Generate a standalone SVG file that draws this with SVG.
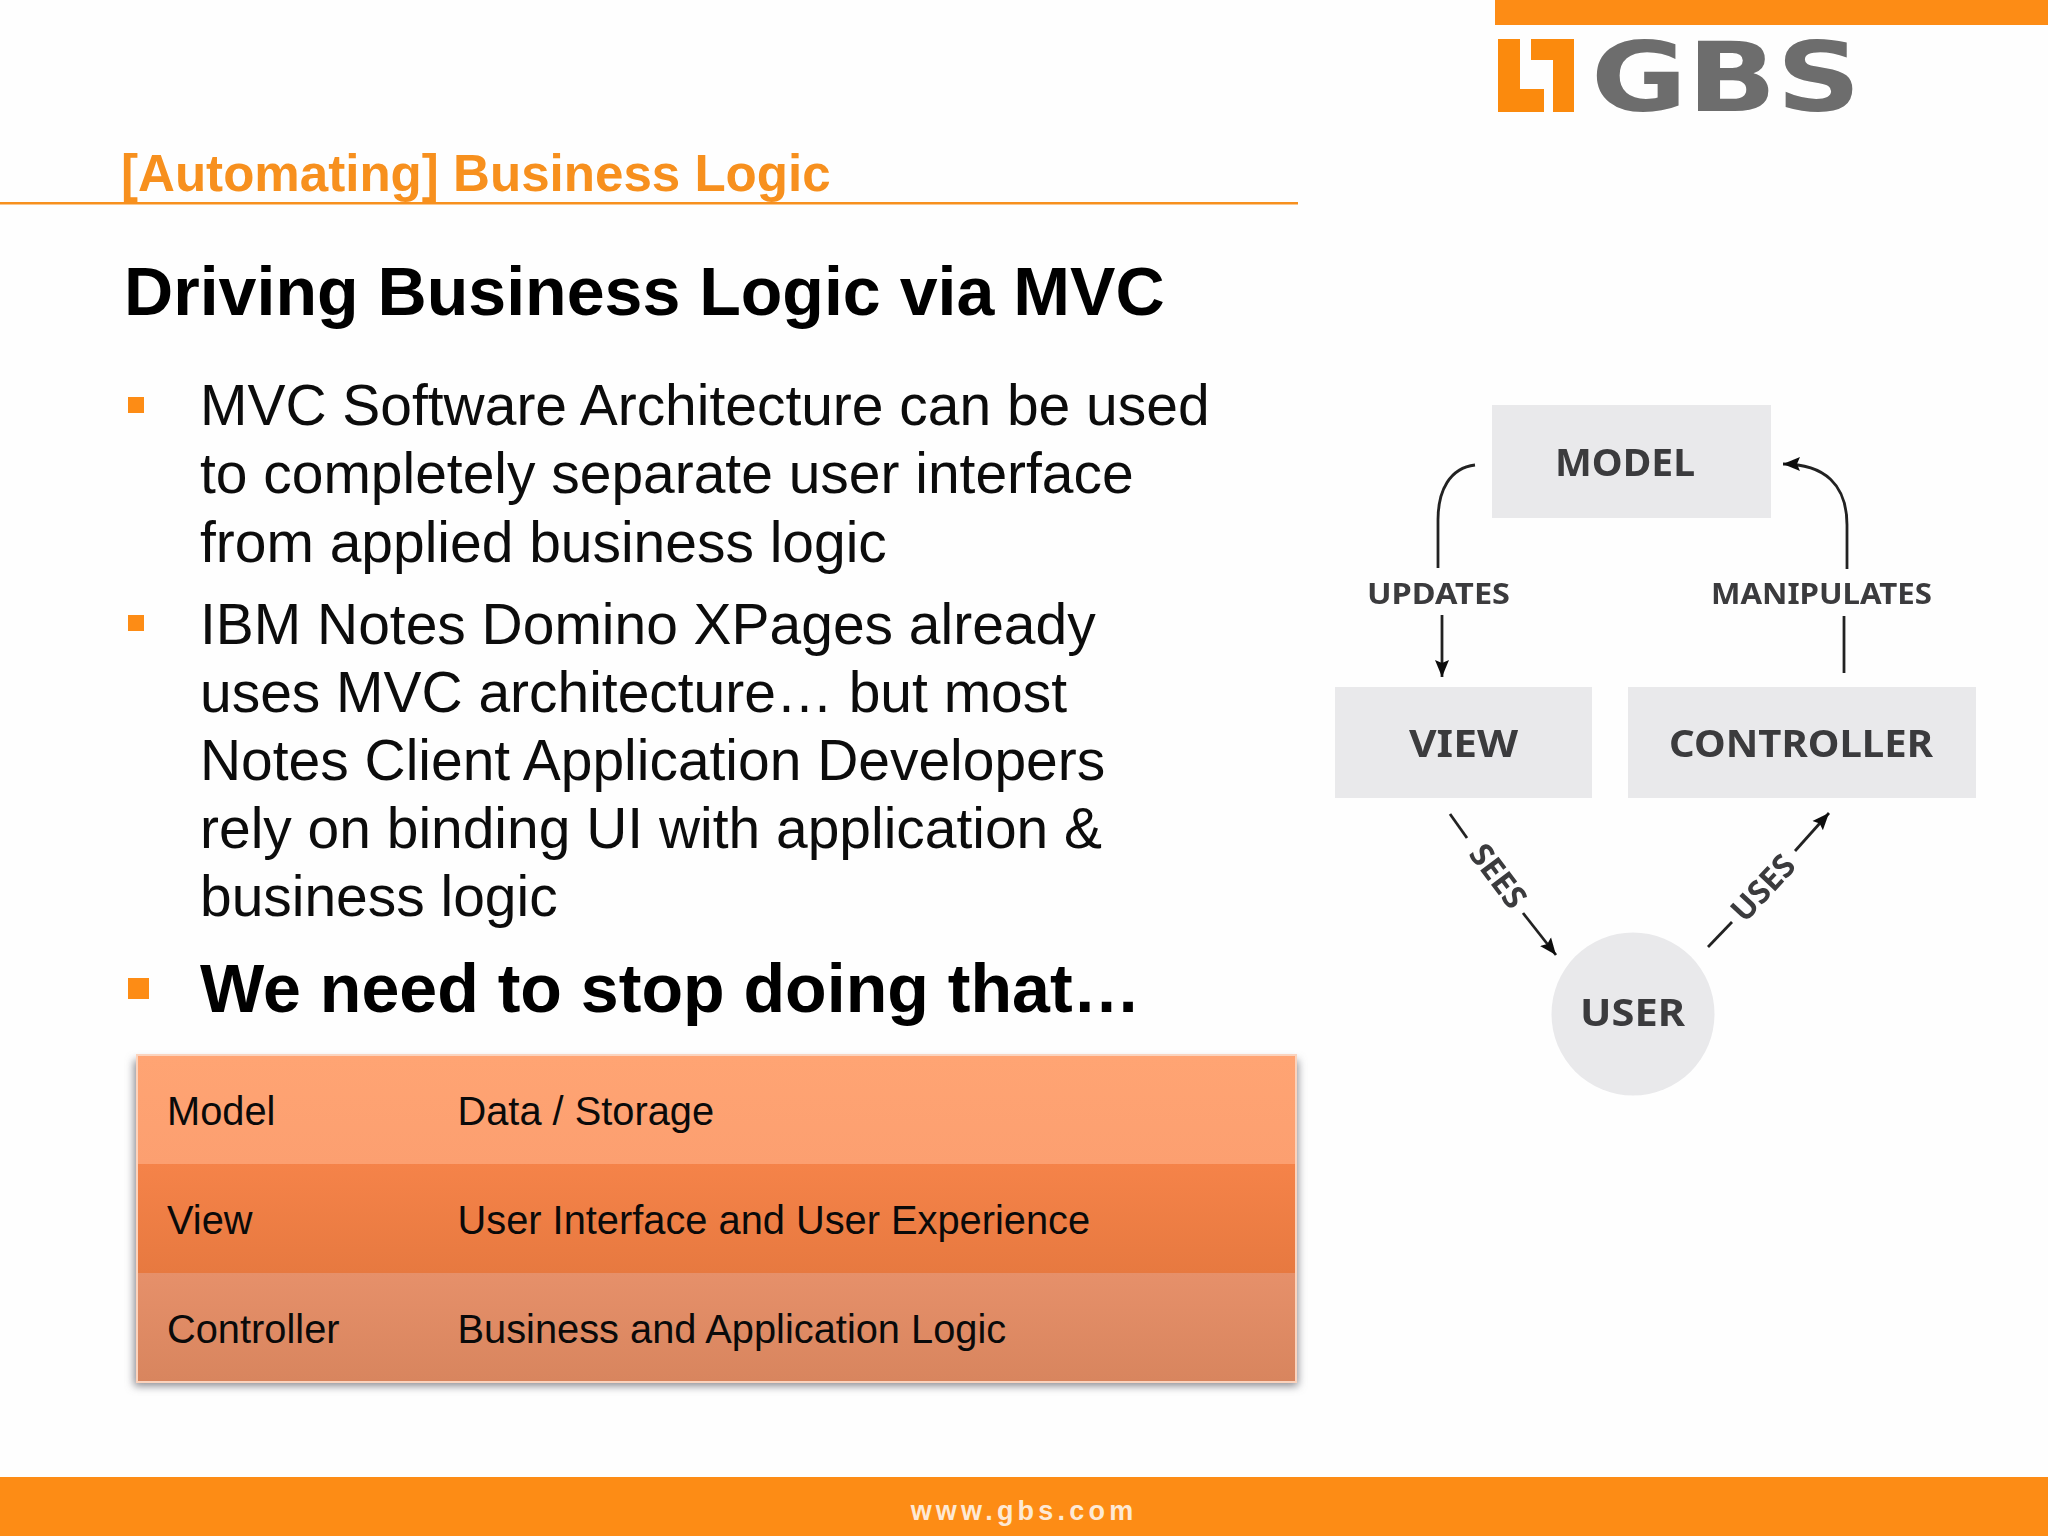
<svg xmlns="http://www.w3.org/2000/svg" width="2048" height="1536" viewBox="0 0 2048 1536">
<style>
.s{font-family:"Liberation Sans",Arial,sans-serif;fill:#0c0c0c}
.b{font-size:56.95px}
.h{font-size:68.1px;font-weight:700;fill:#000}
.t{font-size:39.8px;fill:#0a0a0a}
.d{font-family:"Noto Sans",sans-serif;font-weight:700;fill:#3a3a3d}
.l{font-size:29px}
.r{font-size:32px}
.n{font-size:38px}
.box{fill:#e9e9eb}
.c{fill:none;stroke:#222;stroke-width:2.8}
.a{marker-end:url(#ah)}
</style>
<defs>
<marker id="ah" markerUnits="userSpaceOnUse" markerWidth="18" markerHeight="16" refX="17" refY="8" orient="auto"><path d="M0 1L17 8L0 15L3 8Z" fill="#111"/></marker>
<linearGradient id="r1" x1="0" y1="0" x2="0" y2="1"><stop offset="0" stop-color="#ffa473"/><stop offset="1" stop-color="#fc9f70"/></linearGradient>
<linearGradient id="r2" x1="0" y1="0" x2="0" y2="1"><stop offset="0" stop-color="#f58349"/><stop offset="1" stop-color="#e77940"/></linearGradient>
<linearGradient id="r3" x1="0" y1="0" x2="0" y2="1"><stop offset="0" stop-color="#e6906a"/><stop offset="1" stop-color="#d8855e"/></linearGradient>
<filter id="sh" x="-5%" y="-5%" width="110%" height="115%"><feGaussianBlur stdDeviation="4"/></filter>
<filter id="soft" x="-2%" y="-2%" width="104%" height="104%"><feGaussianBlur stdDeviation="0.7"/></filter>
</defs>
<rect width="2048" height="1536" fill="#fefefe"/>
<g id="top-bar"><rect x="1495" y="0" width="553" height="25" fill="#fd8c15"/></g>
<g id="logo" filter="url(#soft)">
<path d="M1498 39H1520V89H1544V112H1498Z" fill="#fb8a10"/>
<path d="M1531 39H1574V112H1553V60H1531Z" fill="#fb8a10"/>
<text x="1591" y="111" font-family="'DejaVu Sans',sans-serif" font-weight="700" font-size="97" fill="#6d6d6d" textLength="270" lengthAdjust="spacingAndGlyphs">GBS</text>
</g>
<g id="header">
<text class="s" x="121" y="191" font-size="51.1px" font-weight="700" style="fill:#f7901e">[Automating] Business Logic</text>
<rect x="0" y="202" width="1298" height="2.5" fill="#f7901e"/>
</g>
<g id="content">
<text class="s h" x="124" y="315">Driving Business Logic via MVC</text>
<rect x="128" y="397" width="16" height="16" fill="#fd8c15"/>
<text class="s b" x="200" y="425">MVC Software Architecture can be used</text>
<text class="s b" x="200" y="493">to completely separate user interface</text>
<text class="s b" x="200" y="562">from applied business logic</text>
<rect x="128" y="615" width="16" height="16" fill="#fd8c15"/>
<text class="s b" x="200" y="644">IBM Notes Domino XPages already</text>
<text class="s b" x="200" y="712">uses MVC architecture… but most</text>
<text class="s b" x="200" y="780">Notes Client Application Developers</text>
<text class="s b" x="200" y="848">rely on binding UI with application &amp;</text>
<text class="s b" x="200" y="916">business logic</text>
<rect x="128" y="978" width="21" height="21" fill="#fd8c15"/>
<text class="s h" x="200" y="1012">We need to stop doing that…</text>
</g>
<g id="table">
<rect x="134" y="1060" width="1164" height="326" fill="#8a8a90" filter="url(#sh)"/>
<rect x="136" y="1054" width="1161" height="329" fill="#fbd3bd"/>
<rect x="138" y="1056" width="1157" height="109" fill="url(#r1)"/>
<rect x="138" y="1164" width="1157" height="109" fill="url(#r2)"/>
<rect x="138" y="1273" width="1157" height="108" fill="url(#r3)"/>
<text class="s t" x="167" y="1125">Model</text><text class="s t" x="457.5" y="1125">Data / Storage</text>
<text class="s t" x="167" y="1234">View</text><text class="s t" x="457.5" y="1234">User Interface and User Experience</text>
<text class="s t" x="167" y="1343">Controller</text><text class="s t" x="457.5" y="1343">Business and Application Logic</text>
</g>
<g id="footer">
<rect x="0" y="1477" width="2048" height="59" fill="#fd8c15"/>
<text x="1024" y="1520" text-anchor="middle" font-family="'Liberation Sans',sans-serif" font-weight="700" font-size="27" letter-spacing="4.2" fill="#fde9d4">www.gbs.com</text>
</g>
<g id="diagram" filter="url(#soft)">
<g id="connectors">
<path class="c" d="M1475 465C1450 468 1438 490 1438 520V568"/>
<path class="c a" d="M1442 615V677"/>
<path class="c a" d="M1847 569V525C1847 485 1825 464 1783 464"/>
<path class="c" d="M1844 616V673"/>
<path class="c" d="M1450 814L1467 838"/>
<path class="c a" d="M1523 913L1556 955"/>
<path class="c" d="M1708 947L1732 922"/>
<path class="c a" d="M1795 851L1829 813"/>
<text class="d l" x="1367" y="604" textLength="143" lengthAdjust="spacingAndGlyphs">UPDATES</text>
<text class="d l" x="1711" y="604" textLength="221" lengthAdjust="spacingAndGlyphs">MANIPULATES</text>
<text class="d r" transform="translate(1498 876) rotate(53)" text-anchor="middle" y="11">SEES</text>
<text class="d r" transform="translate(1763 888) rotate(-47)" text-anchor="middle" y="11">USES</text>
</g>
<g id="node-model"><rect class="box" x="1492" y="405" width="279" height="113"/><text class="d n" x="1555" y="476" textLength="140" lengthAdjust="spacingAndGlyphs">MODEL</text></g>
<g id="node-view"><rect class="box" x="1335" y="687" width="257" height="111"/><text class="d n" x="1409" y="757" textLength="109" lengthAdjust="spacingAndGlyphs">VIEW</text></g>
<g id="node-controller"><rect class="box" x="1628" y="687" width="348" height="111"/><text class="d n" x="1669" y="757" textLength="264" lengthAdjust="spacingAndGlyphs">CONTROLLER</text></g>
<g id="node-user"><circle class="box" cx="1633" cy="1014" r="81.5"/><text class="d n" x="1580" y="1026" textLength="105" lengthAdjust="spacingAndGlyphs">USER</text></g>
</g>
</svg>
